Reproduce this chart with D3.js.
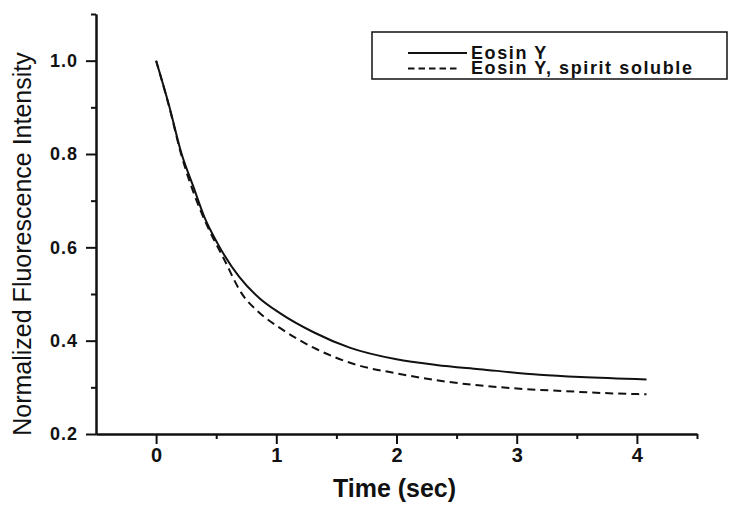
<!DOCTYPE html>
<html>
<head>
<meta charset="utf-8">
<script src="https://cdn.jsdelivr.net/npm/d3@7"></script>
<style>
  body { margin: 0; background: #fff; }
  svg { display: block; font-family: "Liberation Sans", Arial, sans-serif; }
</style>
</head>
<body>
<div id="chart"></div>
<script>
// Data
const timeSolid = [0, 0.11, 0.21, 0.31, 0.40, 0.51, 0.69, 0.86, 1.03, 1.31, 1.61, 2.0, 2.33, 2.69, 3.19, 3.53, 4.08];
const eosinY = [1.0, 0.902, 0.802, 0.730, 0.666, 0.609, 0.537, 0.491, 0.459, 0.418, 0.385, 0.360, 0.348, 0.339, 0.327, 0.322, 0.317];
const timeDashed = [0, 0.11, 0.21, 0.36, 0.44, 0.555, 0.72, 0.85, 1.055, 1.31, 1.67, 2.0, 2.42, 2.97, 3.39, 3.8, 4.08];
const eosinYSpirit = [1.0, 0.900, 0.798, 0.685, 0.638, 0.580, 0.498, 0.462, 0.423, 0.385, 0.348, 0.330, 0.312, 0.298, 0.292, 0.287, 0.285];

const seriesNames = ["Eosin Y", "Eosin Y, spirit soluble"];
const xTicks = [0, 1, 2, 3, 4];
const xMinorTicks = [0.5, 1.5, 2.5, 3.5, 4.5];
const yTicks = [0.2, 0.4, 0.6, 0.8, 1.0];
const yMinorTicks = [0.3, 0.5, 0.7, 0.9, 1.1];

// Dimensions
const W = 729, H = 505;
const margin = { top: 14, right: 32, bottom: 71, left: 96 },
      width = W - margin.left - margin.right,
      height = H - margin.top - margin.bottom;

const ink = "#111";

const svg = d3.select("#chart").append("svg")
    .attr("width", W)
    .attr("height", H);

const g = svg.append("g")
    .attr("transform", `translate(${margin.left},${margin.top})`);

// Scales
const x = d3.scaleLinear().domain([-0.5, 4.5]).range([0, width]);
const y = d3.scaleLinear().domain([0.2, 1.1]).range([height, 0]);

// Axes (ticks outward, major + minor)
const xAxis = g.append("g")
    .attr("transform", `translate(0,${height})`)
    .call(d3.axisBottom(x).tickValues(xTicks).tickFormat(d3.format("d"))
      .tickSize(10).tickSizeOuter(0).tickPadding(4));
g.append("g")
    .attr("transform", `translate(0,${height})`)
    .call(d3.axisBottom(x).tickValues(xMinorTicks).tickFormat("")
      .tickSize(5).tickSizeOuter(0));

const yAxis = g.append("g")
    .call(d3.axisLeft(y).tickValues(yTicks).tickFormat(d3.format(".1f"))
      .tickSize(10).tickSizeOuter(0).tickPadding(8));
g.append("g")
    .call(d3.axisLeft(y).tickValues(yMinorTicks).tickFormat("")
      .tickSize(5).tickSizeOuter(0));

g.selectAll(".domain, .tick line")
    .attr("stroke", ink)
    .attr("stroke-width", 2);

xAxis.selectAll("text")
    .style("font-size", "20px")
    .style("font-weight", "bold")
    .attr("fill", ink);
yAxis.selectAll("text")
    .style("font-size", "18px")
    .style("font-weight", "bold")
    .style("letter-spacing", "1px")
    .attr("fill", ink);

// Curves
const line = d3.line()
    .x(d => x(d[0]))
    .y(d => y(d[1]))
    .curve(d3.curveMonotoneX);

g.append("path")
    .datum(d3.zip(timeSolid, eosinY))
    .attr("fill", "none")
    .attr("stroke", ink)
    .attr("stroke-width", 2)
    .attr("d", line);

g.append("path")
    .datum(d3.zip(timeDashed, eosinYSpirit))
    .attr("fill", "none")
    .attr("stroke", ink)
    .attr("stroke-width", 2)
    .attr("stroke-dasharray", "8,5")
    .attr("d", line);

// Axis titles
svg.append("text")
    .attr("x", margin.left + x(2) - 2)
    .attr("y", 497)
    .attr("text-anchor", "middle")
    .style("font-size", "25px")
    .style("font-weight", "bold")
    .attr("fill", ink)
    .text("Time (sec)");

svg.append("text")
    .attr("transform", `translate(31,${(53 + 435) / 2}) rotate(-90)`)
    .attr("text-anchor", "middle")
    .style("font-size", "25px")
    .attr("fill", ink)
    .text("Normalized Fluorescence Intensity");

// Legend
const legend = svg.append("g").attr("transform", "translate(372,32)");
legend.append("rect")
    .attr("width", 355)
    .attr("height", 47)
    .attr("fill", "#fff")
    .attr("stroke", ink)
    .attr("stroke-width", 1.5);

const dashes = [null, "6.5,4"];
const lineEnds = [95, 85];
seriesNames.forEach((name, i) => {
  const ly = 21 + i * 15.6;
  legend.append("line")
      .attr("x1", 36).attr("x2", lineEnds[i])
      .attr("y1", ly).attr("y2", ly)
      .attr("stroke", ink)
      .attr("stroke-width", 2)
      .attr("stroke-dasharray", dashes[i]);
  legend.append("text")
      .attr("x", 99)
      .attr("y", ly + 5.5)
      .style("font-size", "18px")
      .style("font-weight", "bold")
      .style("letter-spacing", "1.6px")
      .attr("fill", ink)
      .text(name);
});
</script>
</body>
</html>
